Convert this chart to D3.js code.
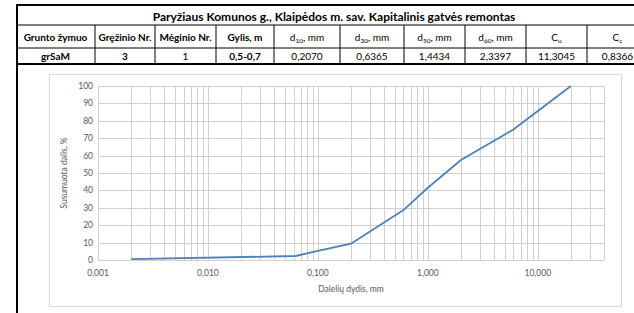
<!DOCTYPE html>
<html>
<head>
<meta charset="utf-8" />
<script src="https://cdn.jsdelivr.net/npm/d3@7"></script>
<style>
  body { margin: 0; background: #fff; }
  text { font-family: Lato, "Open Sans", sans-serif; }
</style>
</head>
<body>
<script>
// table contents
var title = "Paryžiaus Komunos g., Klaipėdos m. sav. Kapitalinis gatvės remontas";
var headers = [
  { t: "Grunto žymuo" }, { t: "Gręžinio Nr." }, { t: "Mėginio Nr." }, { t: "Gylis, m" },
  { t: "d", sub: "10", rest: ", mm" }, { t: "d", sub: "30", rest: ", mm" },
  { t: "d", sub: "50", rest: ", mm" }, { t: "d", sub: "60", rest: ", mm" },
  { t: "C", sub: "u", rest: "" }, { t: "C", sub: "c", rest: "" }
];
var rowValues = ["grSaM", "3", "1", "0,5-0,7", "0,2070", "0,6365", "1,4434", "2,3397", "11,3045", "0,8366"];
var rowBold = [true, true, false, true, false, false, false, false, false, false];
var colEdges = [16, 95, 155, 216, 274, 340, 404, 465, 526, 587, 648];

// grading curve
var particleSize = [0.002, 0.063, 0.1, 0.2, 0.6, 1, 2, 6, 20];      // mm
var passing      = [0.5,   2.3,   5.3, 9.4, 28.7, 41.5, 57.5, 75, 100]; // %
var xTicks = [0.001, 0.01, 0.1, 1, 10];
var yTicks = [0, 10, 20, 30, 40, 50, 60, 70, 80, 90, 100];

var svg = d3.select("body").append("svg").attr("width", 634).attr("height", 313);

// ---- table ----
var tTop = 5, tTitleB = 25, tHeadB = 48, tRowB = 64;
var tab = svg.append("g");
tab.append("text").attr("x", 334).attr("y", 20.5).attr("text-anchor", "middle")
  .attr("font-size", 12).attr("font-weight", "bold").text(title);

headers.forEach(function (h, i) {
  var cx = (colEdges[i] + colEdges[i + 1]) / 2;
  var t = tab.append("text").attr("x", cx).attr("y", 41).attr("text-anchor", "middle")
    .attr("font-size", 10).attr("font-weight", i < 4 ? "bold" : "normal");
  t.append("tspan").text(h.t);
  if (h.sub) {
    t.append("tspan").attr("font-size", 6.5).attr("dy", 2).text(h.sub);
    if (h.rest) t.append("tspan").attr("dy", -2).text(h.rest);
  }
  tab.append("text").attr("x", cx).attr("y", 59.5).attr("text-anchor", "middle")
    .attr("font-size", 10).attr("font-weight", rowBold[i] ? "bold" : "normal").text(rowValues[i]);
});

// table lines
tab.append("line").attr("x1", 16).attr("x2", 634).attr("y1", tTop).attr("y2", tTop).attr("stroke", "#000").attr("stroke-width", 2);
tab.append("line").attr("x1", 16).attr("x2", 634).attr("y1", tTitleB).attr("y2", tTitleB).attr("stroke", "#000").attr("stroke-width", 1);
tab.append("line").attr("x1", 16).attr("x2", 634).attr("y1", tHeadB).attr("y2", tHeadB).attr("stroke", "#000").attr("stroke-width", 1);
tab.append("line").attr("x1", 16).attr("x2", 634).attr("y1", tRowB).attr("y2", tRowB).attr("stroke", "#000").attr("stroke-width", 2);
colEdges.slice(1, -1).forEach(function (x) {
  tab.append("line").attr("x1", x).attr("x2", x).attr("y1", tTitleB).attr("y2", tRowB).attr("stroke", "#000").attr("stroke-width", 1);
});
tab.append("line").attr("x1", 17).attr("x2", 17).attr("y1", tTop - 1).attr("y2", 313).attr("stroke", "#000").attr("stroke-width", 2);

// ---- chart ----
svg.append("rect").attr("x", 49.5).attr("y", 74.5).attr("width", 572).attr("height", 232)
  .attr("fill", "none").attr("stroke", "#d9d9d9");

var x = d3.scaleLog().domain([0.001, 40]).range([98, 604]);
var y = d3.scaleLinear().domain([0, 100]).range([260, 86]);

// minor vertical grid 1..9 per decade
var vGrid = [];
xTicks.forEach(function (d) {
  d3.range(1, 10).forEach(function (m) {
    var v = +(d * m).toPrecision(3);
    if (v <= 40) vGrid.push(v);
  });
});
vGrid.push(40);

var grid = svg.append("g").attr("stroke", "#d0d0d0").attr("stroke-width", 1);
grid.selectAll(".v").data(vGrid).enter().append("line")
  .attr("x1", function (d) { return Math.round(x(d)) + 0.5; })
  .attr("x2", function (d) { return Math.round(x(d)) + 0.5; })
  .attr("y1", y(0)).attr("y2", y(100));
grid.selectAll(".h").data(yTicks).enter().append("line")
  .attr("x1", x(0.001)).attr("x2", x(40))
  .attr("y1", function (d) { return Math.round(y(d)) + 0.5; })
  .attr("y2", function (d) { return Math.round(y(d)) + 0.5; });

svg.append("g").selectAll("text").data(yTicks).enter().append("text")
  .attr("x", 93).attr("y", function (d) { return y(d) + 3; })
  .attr("text-anchor", "end").attr("font-size", 8.5).attr("fill", "#595959")
  .text(function (d) { return d; });

var fmt = function (d) { return d3.format(".3f")(d).replace(".", ","); };
svg.append("g").selectAll("text").data(xTicks).enter().append("text")
  .attr("x", function (d) { return x(d); }).attr("y", 276)
  .attr("text-anchor", "middle").attr("font-size", 8.5).attr("fill", "#595959")
  .text(fmt);

svg.append("text").attr("x", 351).attr("y", 292).attr("text-anchor", "middle")
  .attr("font-size", 8.5).attr("fill", "#595959").text("Dalelių dydis, mm");
svg.append("text").attr("transform", "translate(67,173) rotate(-90)").attr("text-anchor", "middle")
  .attr("font-size", 8.5).attr("fill", "#595959").text("Susumuota dalis, %");

var pts = particleSize.map(function (d, i) { return [d, passing[i]]; });
svg.append("path").datum(pts)
  .attr("fill", "none").attr("stroke", "#4f81b8").attr("stroke-width", 1.8)
  .attr("d", d3.line().x(function (d) { return x(d[0]); }).y(function (d) { return y(d[1]); }));
</script>
</body>
</html>
